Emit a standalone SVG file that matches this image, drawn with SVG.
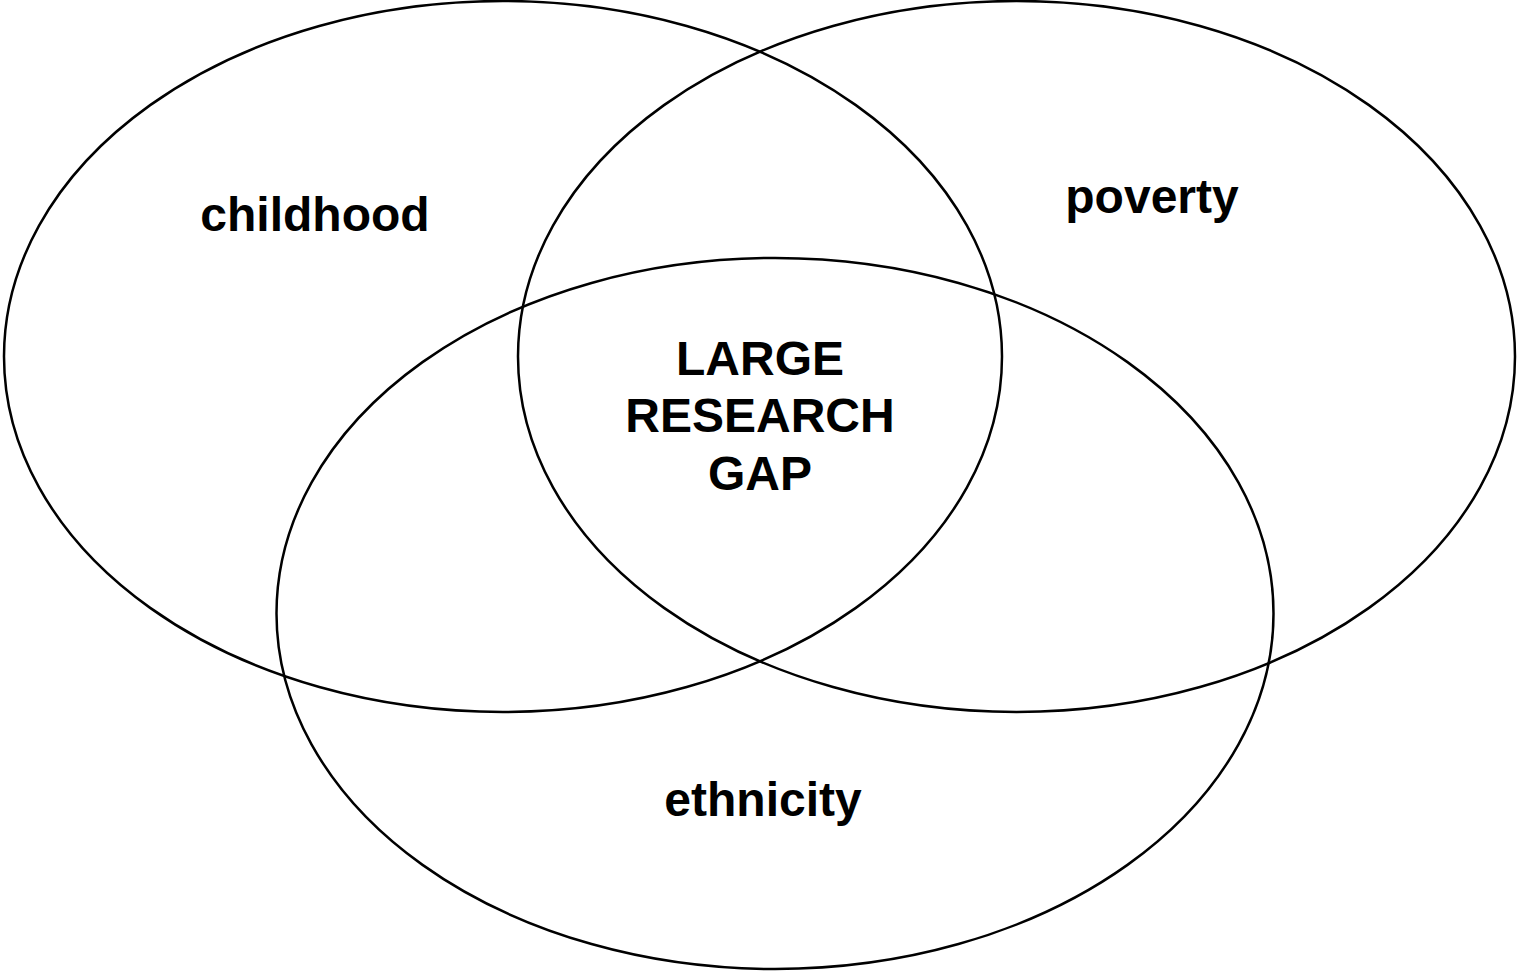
<svg xmlns="http://www.w3.org/2000/svg" width="1517" height="972" viewBox="0 0 1517 972">
<style>
.set{fill:none;stroke:#000;stroke-width:2.5}
.lbl{font-family:"Liberation Sans",Arial,sans-serif;font-weight:bold;font-size:48px;fill:#000;text-anchor:middle}
</style>
<rect width="1517" height="972" fill="#fff"/>
<g id="childhood">
<ellipse class="set" cx="503" cy="356.5" rx="499" ry="355.5"/>
<text class="lbl" x="315" y="231">childhood</text>
</g>
<g id="poverty">
<ellipse class="set" cx="1016.5" cy="356.5" rx="498.5" ry="355.5"/>
<text class="lbl" x="1152" y="213">poverty</text>
</g>
<g id="ethnicity">
<ellipse class="set" cx="775" cy="613.5" rx="498.5" ry="355.5"/>
<text class="lbl" x="763" y="816">ethnicity</text>
</g>
<g id="gap">
<text class="lbl" x="760" y="375">LARGE</text>
<text class="lbl" x="760" y="432">RESEARCH</text>
<text class="lbl" x="760" y="490">GAP</text>
</g>
<g id="connectors"/>
</svg>
